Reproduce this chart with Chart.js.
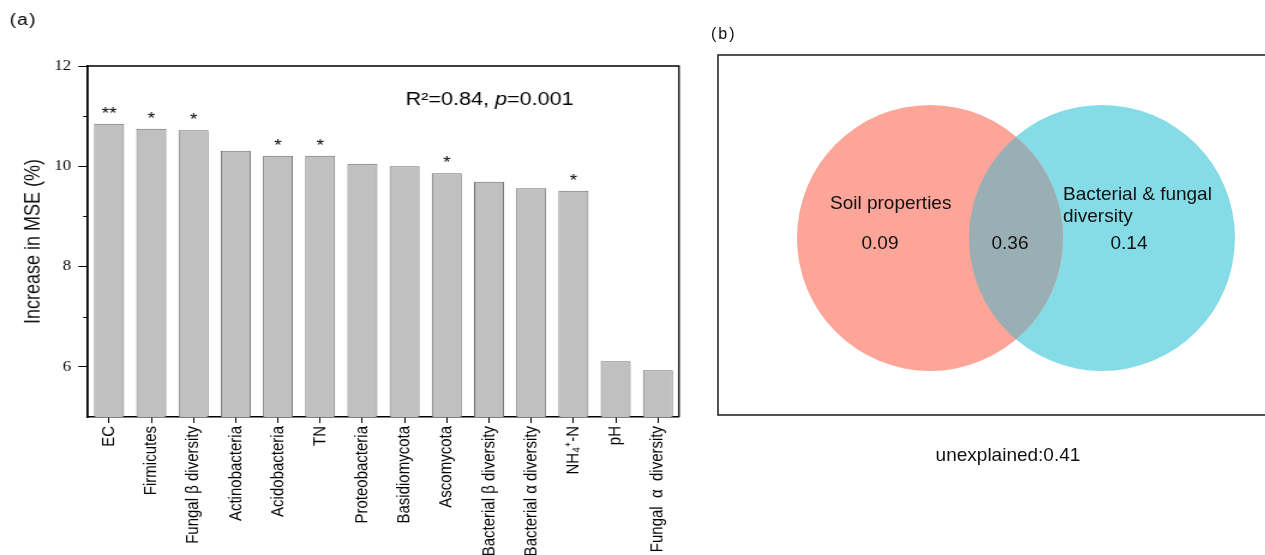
<!DOCTYPE html>
<html>
<head>
<meta charset="utf-8">
<script src="https://cdn.jsdelivr.net/npm/chart.js@4.4.1/dist/chart.umd.min.js"></script>
<style>
  html, body { margin: 0; padding: 0; background: #fff; overflow: hidden; width: 1265px; height: 555px; }
  /* panel (a) is drawn narrow and widened, the way the figure was exported */
  #panelA { position: absolute; left: 0; top: 0; width: 583px; height: 555px; transform: scaleX(1.2); transform-origin: 0 0; }
  #panelB { position: absolute; left: 700px; top: 0; width: 600px; height: 555px; }
</style>
</head>
<body>
<div id="panelA"><canvas id="mseChart" width="583" height="555"></canvas></div>
<div id="panelB"><canvas id="vennChart" width="600" height="555"></canvas></div>
<script>
// (a) random forest importance
const predictors = ['EC', 'Firmicutes', 'Fungal β diversity', 'Actinobacteria', 'Acidobacteria', 'TN',
  'Proteobacteria', 'Basidiomycota', 'Ascomycota', 'Bacterial β diversity', 'Bacterial α diversity',
  'NH₄⁺-N', 'pH', 'Fungal  α  diversity'];
const mseIncrease = [10.85, 10.75, 10.72, 10.31, 10.21, 10.21, 10.05, 10.0, 9.86, 9.69, 9.56, 9.51, 6.11, 5.93];
const significance = ['**', '*', '*', '', '*', '*', '', '', '*', '', '', '*', '', ''];
const yMajorTicks = [6, 8, 10, 12];
const yMinorTicks = [7, 9, 11];
const fitStats = { r2: 0.84, p: 0.001 };

// (b) variation partitioning
const vennSets = [['Soil properties'], ['Bacterial & fungal', 'diversity']];
const vennShares = [0.09, 0.36, 0.14];   // soil only, shared, diversity only
const unexplained = 0.41;

const vennLayout = { cx: [37.06, 67.13], cy: 49.17, r: 133 };
const vennColors = ['#FCA598', '#86DCE6'];
const overlapColor = '#9AAFB4';
const sans = '"Liberation Sans", Arial, sans-serif';

const panelAExtras = {
  id: 'panelAExtras',
  afterDraw(chart) {
    const { ctx, chartArea: a, scales: { y } } = chart;
    ctx.save();
    ctx.strokeStyle = '#000';
    ctx.lineWidth = 1.3;
    ctx.beginPath();
    ctx.moveTo(a.left, a.top);
    ctx.lineTo(a.right, a.top);
    ctx.lineTo(a.right, a.bottom);
    ctx.stroke();

    ctx.lineWidth = 1;
    yMinorTicks.forEach(v => {
      const py = Math.round(y.getPixelForValue(v)) + 0.5;
      ctx.beginPath();
      ctx.moveTo(a.left - 4, py);
      ctx.lineTo(a.left, py);
      ctx.stroke();
    });

    // significance stars over the bars
    ctx.fillStyle = '#000';
    ctx.font = '16px ' + sans;
    ctx.textAlign = 'center';
    ctx.textBaseline = 'alphabetic';
    chart.getDatasetMeta(0).data.forEach((bar, i) => {
      if (significance[i]) ctx.fillText(significance[i], bar.x, bar.y - 5);
    });

    // model fit
    ctx.textAlign = 'left';
    let tx = 338;
    const parts = [
      ['R²=' + fitStats.r2.toFixed(2) + ', ', 'normal'],
      ['p', 'italic'],
      ['=' + fitStats.p.toFixed(3), 'normal']
    ];
    parts.forEach(([s, style]) => {
      ctx.font = style + ' 18px ' + sans;
      ctx.fillText(s, tx, 105);
      tx += ctx.measureText(s).width;
    });

    ctx.font = '16px ' + sans;
    ctx.letterSpacing = '1px';
    ctx.fillText('(a)', 8, 25);
    ctx.restore();
  }
};

new Chart(document.getElementById('mseChart'), {
  type: 'bar',
  data: {
    labels: predictors,
    datasets: [{
      data: mseIncrease,
      backgroundColor: '#c0c0c0',
      borderColor: '#6e6e6e',
      borderWidth: 1,
      barPercentage: 0.71,
      categoryPercentage: 1
    }]
  },
  options: {
    responsive: false,
    animation: false,
    layout: { padding: { top: 66, right: 17.2, bottom: 0, left: 0 } },
    plugins: { legend: { display: false }, tooltip: { enabled: false } },
    scales: {
      x: {
        grid: { drawOnChartArea: false, offset: false, tickLength: 6, tickColor: '#000', tickWidth: 1 },
        border: { color: '#000', width: 1.6 },
        ticks: {
          autoSkip: false, maxRotation: 90, minRotation: 90, padding: 3, color: '#000',
          font: { family: 'Liberation Sans', size: 15 }
        },
        afterFit: s => { s.height = 138; }
      },
      y: {
        min: 5,
        max: 12,
        afterBuildTicks: s => { s.ticks = yMajorTicks.map(v => ({ value: v })); },
        grid: { drawOnChartArea: false, tickLength: 8, tickColor: '#000', tickWidth: 1 },
        border: { color: '#000', width: 1.8 },
        ticks: { padding: 6, color: '#000', font: { family: 'Liberation Serif', size: 14 } },
        title: {
          display: true,
          text: 'Increase in MSE (%)',
          color: '#111',
          font: { family: 'Liberation Sans', size: 18 },
          padding: { top: 17, bottom: 0 }
        },
        afterFit: s => { s.width = 73.3; }
      }
    }
  },
  plugins: [panelAExtras]
});

const vennExtras = {
  id: 'vennExtras',
  afterDatasetsDraw(chart) {
    const { ctx } = chart;
    const a = chart.getDatasetMeta(0).data[0];
    const b = chart.getDatasetMeta(1).data[0];
    // shared part: circle B clipped to circle A
    ctx.save();
    ctx.beginPath();
    ctx.arc(a.x, a.y, a.options.radius, 0, Math.PI * 2);
    ctx.clip();
    ctx.fillStyle = overlapColor;
    ctx.beginPath();
    ctx.arc(b.x, b.y, b.options.radius, 0, Math.PI * 2);
    ctx.fill();
    ctx.restore();
  },
  afterDraw(chart) {
    const { ctx, chartArea: area } = chart;
    const a = chart.getDatasetMeta(0).data[0];
    const b = chart.getDatasetMeta(1).data[0];
    ctx.save();
    ctx.strokeStyle = '#2a2a2a';
    ctx.lineWidth = 1.6;
    ctx.strokeRect(area.left, area.top, area.right - area.left, area.bottom - area.top);

    ctx.fillStyle = '#111';
    ctx.font = '19px ' + sans;
    ctx.textBaseline = 'alphabetic';
    ctx.textAlign = 'left';
    vennSets[0].forEach((line, i) => ctx.fillText(line, a.x - 100, a.y - 29 + i * 22));
    vennSets[1].forEach((line, i) => ctx.fillText(line, b.x - 39, b.y - 38 + i * 22));

    ctx.textAlign = 'center';
    const mid = (a.x + b.x) / 2;
    ctx.fillText(vennShares[0].toFixed(2), a.x - 50, a.y + 11);
    ctx.fillText(vennShares[1].toFixed(2), mid - 6, a.y + 11);
    ctx.fillText(vennShares[2].toFixed(2), b.x + 27, b.y + 11);
    ctx.fillText('unexplained:' + unexplained.toFixed(2), mid - 8, area.bottom + 46);

    ctx.textAlign = 'left';
    ctx.font = '16px ' + sans;
    ctx.letterSpacing = '2px';
    ctx.fillText('(b)', 11, 39);
    ctx.restore();
  }
};

new Chart(document.getElementById('vennChart'), {
  type: 'bubble',
  data: {
    datasets: vennSets.map((lines, i) => ({
      label: lines.join(' '),
      data: [{ x: vennLayout.cx[i], y: vennLayout.cy, r: vennLayout.r }],
      backgroundColor: vennColors[i],
      borderWidth: 0
    }))
  },
  options: {
    responsive: false,
    animation: false,
    layout: { autoPadding: false, padding: { left: 18, top: 55, right: 10, bottom: 140 } },
    scales: {
      x: { display: false, min: 0, max: 100 },
      y: { display: false, min: 0, max: 100 }
    },
    plugins: { legend: { display: false }, tooltip: { enabled: false } }
  },
  plugins: [vennExtras]
});
</script>
</body>
</html>
